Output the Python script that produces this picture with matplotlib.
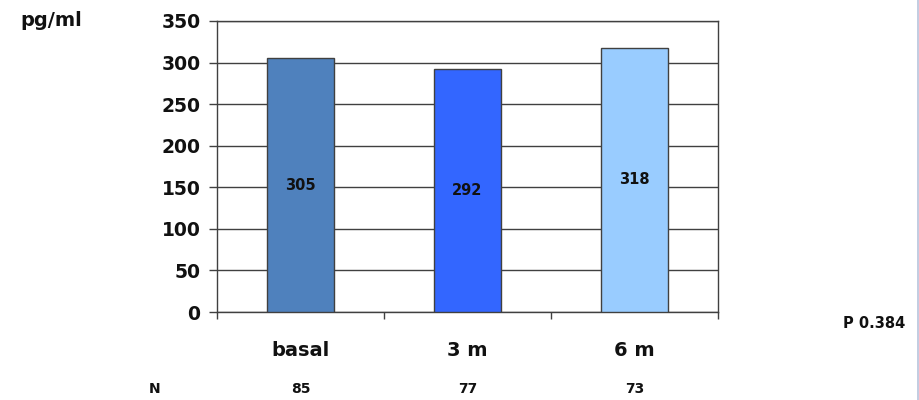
import matplotlib
matplotlib.use("Agg")
import matplotlib.pyplot as plt
from matplotlib.lines import Line2D

categories = ["basal", "3 m", "6 m"]
values = [305, 292, 318]
n_counts = ["85", "77", "73"]
colors = ["#4F81BD", "#3366FF", "#99CCFF"]
y_ticks = [0, 50, 100, 150, 200, 250, 300, 350]
unit_label = "pg/ml"
p_label = "P 0.384"

plt.rcParams["font.family"] = ["DejaVu Sans"]
plt.rcParams["font.weight"] = "bold"

fig = plt.figure(figsize=(9.19, 4.0), dpi=100)
ax = fig.add_axes([217 / 919, 88 / 400, 501 / 919, 291 / 400])

x = list(range(len(categories)))
bars = ax.bar(x, values, width=0.4, color=colors, edgecolor="#404040",
              linewidth=1.0, zorder=3)

for xi, v in zip(x, values):
    ax.text(xi, v / 2, str(v), ha="center", va="center", fontsize=10.5,
            fontweight="bold", color="#111111", zorder=4)

ax.set_xlim(-0.5, len(categories) - 0.5)
ax.set_ylim(0, 350)
ax.set_yticks(y_ticks)
ax.set_yticklabels([str(t) for t in y_ticks], fontsize=13.5, fontweight="bold")
ax.yaxis.grid(True, color="#404040", linewidth=1.0, zorder=0)
ax.set_axisbelow(True)

# category boundaries carry the x tick marks; names sit under the bars
ax.set_xticks([i - 0.5 for i in range(len(categories) + 1)])
ax.set_xticklabels([])
ax.tick_params(axis="x", direction="out", length=5, width=1, color="#404040")
ax.tick_params(axis="y", direction="out", length=6, width=1, color="#404040",
               pad=6, labelcolor="#111111")
for xi, name in zip(x, categories):
    ax.text(xi, -46, name, ha="center", va="center", fontsize=14,
            fontweight="bold", color="#111111")

for side in ["left", "right", "top", "bottom"]:
    ax.spines[side].set_color("#404040")
    ax.spines[side].set_linewidth(1.0)

fig.text(20 / 919, 1 - 20 / 400, unit_label, ha="left", va="center",
         fontsize=14, fontweight="bold", color="#111111")
fig.text(905 / 919, 1 - 323 / 400, p_label, ha="right", va="center",
         fontsize=10.5, fontweight="bold", color="#111111")

fig.text(155 / 919, 1 - 389 / 400, "N", ha="center", va="center",
         fontsize=10, fontweight="bold", color="#111111")
for xi, n in zip(x, n_counts):
    xd = ax.transData.transform((xi, 0))[0]
    fig.text(xd / 919, 1 - 389 / 400, n, ha="center", va="center",
             fontsize=10, fontweight="bold", color="#111111")

fig.add_artist(Line2D([917.5 / 919, 917.5 / 919], [0, 1],
                      transform=fig.transFigure, color="#B8C4DC", linewidth=1.2))

fig.savefig("out.png", dpi=100, facecolor="white")
